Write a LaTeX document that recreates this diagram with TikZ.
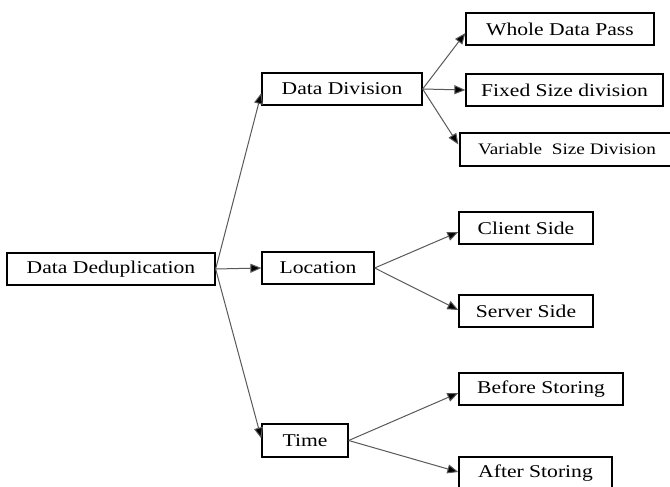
\documentclass[tikz,border=0pt]{standalone}
\usepackage{fontspec}
\setmainfont{Liberation Serif}[FakeStretch=1.2]
\usetikzlibrary{arrows.meta}
\tikzset{
  box/.style={draw=black, line width=1.3pt, fill=white, inner sep=0pt,
    minimum height=32pt, font=\fontsize{18}{20}\selectfont, anchor=center},
  arr/.style={draw=black!65, line width=1pt,
    -{Triangle[length=11pt,width=9pt,fill=black]}},
}
\begin{document}
\begin{tikzpicture}[x=1pt,y=-1pt]
  \useasboundingbox (0,0) rectangle (670,487);
  \fill[white] (0,0) rectangle (670,487);

  % root and the three criteria
  \node[box, minimum width=208pt] (dedup) at (111,269) {Data Deduplication};
  \node[box, minimum width=160pt] (div)   at (342,89)  {Data Division};
  \node[box, minimum width=112pt] (loc)   at (318,268) {Location};
  \node[box, minimum width=86pt, minimum height=33pt] (time) at (305,440.5) {Time};

  % leaves of the data division branch
  \node[box, minimum width=188pt] (whole) at (560,29)  {Whole Data Pass};
  \node[box, minimum width=197pt] (fixed) at (564.5,90) {Fixed Size division};
  \node[box, minimum width=214pt, minimum height=33pt,
        font=\fontsize{16}{18}\selectfont] (var) at (567,149.5)
        {Variable\hspace{5pt} Size Division};

  % leaves of the location branch
  \node[box, minimum width=134pt] (client) at (526,228) {Client Side};
  \node[box, minimum width=134pt] (server) at (526,311) {Server Side};

  % leaves of the time branch
  \node[box, minimum width=164pt] (before) at (541,389)   {Before Storing};
  \node[box, minimum width=153pt] (after)  at (535.5,473) {After Storing};

  % connectors
  \draw[arr] (dedup.east) -- ([yshift=-4pt]div.west);
  \draw[arr] (dedup.east) -- (loc.west);
  \draw[arr] (dedup.east) -- ([yshift=2pt]time.west);

  \draw[arr] (div.east) -- ([yshift=-4pt]whole.west);
  \draw[arr] (div.east) -- (fixed.west);
  \draw[arr] (div.east) -- ([xshift=-1pt,yshift=5pt]var.west);

  \draw[arr] (loc.east) -- ([yshift=-4pt]client.west);
  \draw[arr] (loc.east) -- ([yshift=1pt]server.west);

  \draw[arr] (time.east) -- ([yshift=-4pt]before.west);
  \draw[arr] (time.east) -- ([yshift=1pt]after.west);
\end{tikzpicture}
\end{document}
